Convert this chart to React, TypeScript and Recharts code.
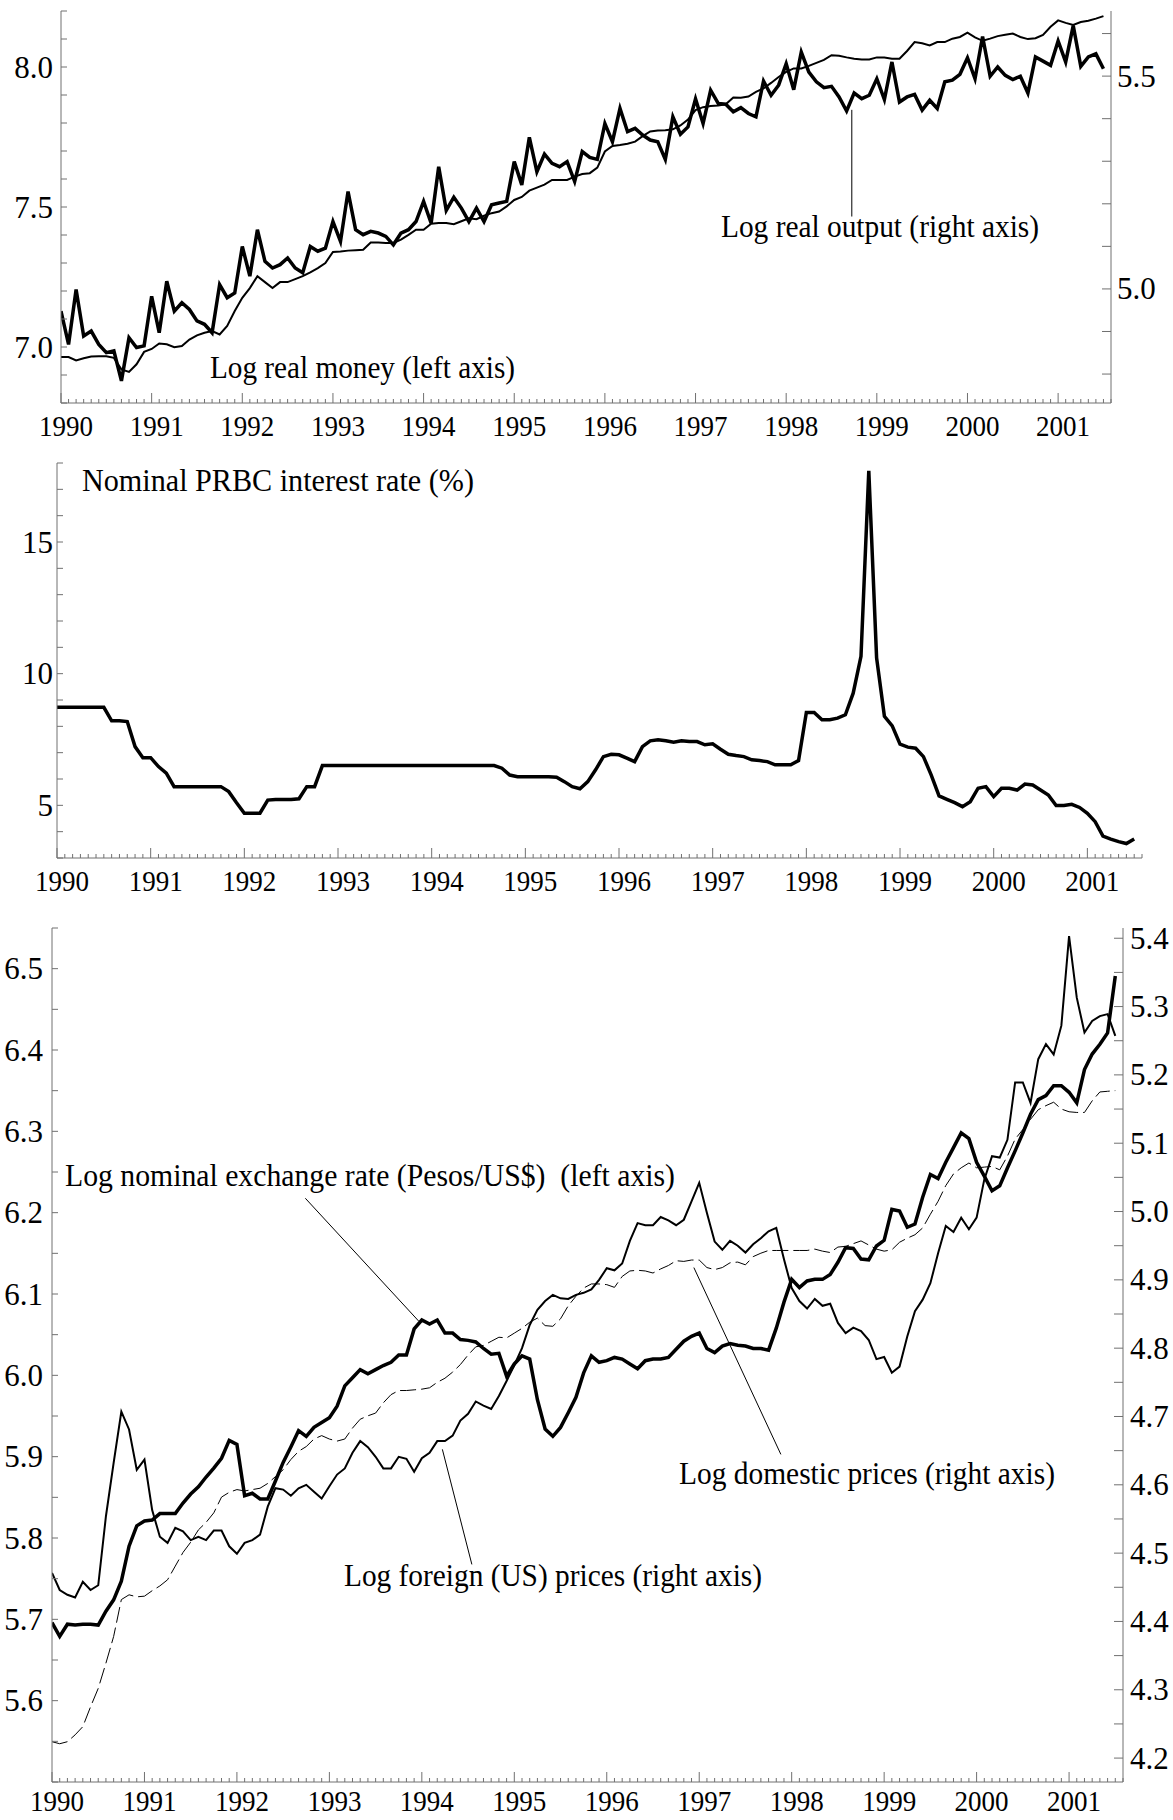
import React from "react";
import { LineChart, Line, XAxis, YAxis, ReferenceLine } from "recharts";

const FONT = "'Liberation Serif', 'Times New Roman', Times, serif";
const AXIS = "#707070";
const START = 1990;
const END = 1990 + 139 / 12;

// monthly observations, Jan 1990 .. Jul 2001
const realMoney = [
  7.128, 7.009, 7.205, 7.039, 7.057, 7.009, 6.98, 6.986, 6.879, 7.033, 6.998, 7.004,
  7.181, 7.051, 7.235, 7.128, 7.158, 7.134, 7.093, 7.081, 7.051, 7.223, 7.176, 7.193,
  7.359, 7.253, 7.419, 7.306, 7.282, 7.294, 7.318, 7.282, 7.265, 7.359, 7.342, 7.353,
  7.448, 7.377, 7.555, 7.419, 7.401, 7.413, 7.407, 7.395, 7.365, 7.407, 7.419, 7.448,
  7.52, 7.442, 7.644, 7.488, 7.535, 7.496, 7.448, 7.496, 7.448, 7.508, 7.514, 7.52,
  7.662, 7.579, 7.749, 7.626, 7.689, 7.656, 7.644, 7.662, 7.591, 7.698, 7.677, 7.67,
  7.798, 7.733, 7.852, 7.769, 7.781, 7.757, 7.739, 7.733, 7.67, 7.822, 7.76, 7.786,
  7.886, 7.798, 7.917, 7.87, 7.867, 7.84, 7.855, 7.834, 7.822, 7.95, 7.899, 7.935,
  8.012, 7.919, 8.053, 7.982, 7.947, 7.926, 7.931, 7.893, 7.843, 7.907, 7.887, 7.899,
  7.958, 7.884, 8.018, 7.875, 7.893, 7.902, 7.846, 7.881, 7.852, 7.947, 7.953, 7.974,
  8.033, 7.958, 8.109, 7.967, 8.0, 7.97, 7.955, 7.967, 7.907, 8.036, 8.021, 8.006,
  8.093, 8.018, 8.148, 8.002, 8.036, 8.047, 7.994,
];

const realOutput = [
  4.84, 4.84, 4.832, 4.837, 4.841, 4.842, 4.842, 4.838, 4.811, 4.805, 4.823, 4.852,
  4.859, 4.872, 4.87, 4.863, 4.866, 4.881, 4.891, 4.897, 4.901, 4.893, 4.913, 4.948,
  4.979, 5.002, 5.03, 5.016, 5.002, 5.016, 5.016, 5.023, 5.03, 5.039, 5.049, 5.061,
  5.087, 5.088, 5.09, 5.091, 5.092, 5.109, 5.109, 5.108, 5.108, 5.116, 5.127, 5.139,
  5.139, 5.153, 5.155, 5.155, 5.152, 5.159, 5.166, 5.164, 5.172, 5.178, 5.182, 5.194,
  5.209, 5.216, 5.231, 5.238, 5.245, 5.256, 5.256, 5.256, 5.264, 5.27, 5.272, 5.285,
  5.323, 5.336, 5.338, 5.341, 5.346, 5.359, 5.37, 5.372, 5.373, 5.375, 5.384, 5.398,
  5.42, 5.427, 5.43, 5.431, 5.434, 5.45, 5.449, 5.452, 5.463, 5.471, 5.484, 5.498,
  5.51, 5.518, 5.518, 5.524, 5.531, 5.538, 5.549, 5.548, 5.544, 5.541, 5.539, 5.539,
  5.544, 5.544, 5.541, 5.541, 5.559, 5.58, 5.577, 5.572, 5.58, 5.58, 5.588, 5.592,
  5.602, 5.591, 5.583, 5.588, 5.594, 5.597, 5.6, 5.592, 5.587, 5.589, 5.597, 5.616,
  5.631, 5.625, 5.62, 5.627, 5.63, 5.635, 5.641,
];

const interestRate = [
  8.72, 8.72, 8.72, 8.72, 8.72, 8.72, 8.72, 8.21, 8.21, 8.18, 7.23, 6.81,
  6.81, 6.47, 6.22, 5.71, 5.71, 5.71, 5.71, 5.71, 5.71, 5.71, 5.52, 5.1,
  4.7, 4.7, 4.7, 5.2, 5.22, 5.22, 5.22, 5.25, 5.71, 5.71, 6.51, 6.51,
  6.51, 6.51, 6.51, 6.51, 6.51, 6.51, 6.51, 6.51, 6.51, 6.51, 6.51, 6.51,
  6.51, 6.51, 6.51, 6.51, 6.51, 6.51, 6.51, 6.51, 6.51, 6.41, 6.15, 6.09,
  6.09, 6.09, 6.09, 6.09, 6.07, 5.9, 5.71, 5.63, 5.9, 6.35, 6.85, 6.94,
  6.92, 6.79, 6.66, 7.23, 7.45, 7.49, 7.45, 7.4, 7.45, 7.42, 7.42, 7.3,
  7.34, 7.13, 6.94, 6.89, 6.85, 6.73, 6.7, 6.66, 6.54, 6.54, 6.54, 6.7,
  8.53, 8.53, 8.25, 8.25, 8.31, 8.44, 9.26, 10.66, 17.7, 10.6, 8.38, 8.02,
  7.32, 7.21, 7.17, 6.85, 6.15, 5.36, 5.23, 5.1, 4.95, 5.14, 5.65, 5.71,
  5.33, 5.65, 5.65, 5.58, 5.81, 5.77, 5.58, 5.39, 4.99, 4.99, 5.04, 4.92,
  4.7, 4.38, 3.83, 3.72, 3.62, 3.55, 3.72,
];

const exchangeRate = [
  5.696, 5.679, 5.694, 5.693, 5.694, 5.694, 5.693, 5.71, 5.724, 5.747, 5.79, 5.815,
  5.821, 5.822, 5.83, 5.83, 5.83, 5.843, 5.854, 5.863, 5.875, 5.886, 5.898, 5.92,
  5.915, 5.852, 5.855, 5.848, 5.848, 5.87, 5.893, 5.912, 5.932, 5.925, 5.936, 5.942,
  5.948, 5.962, 5.987, 5.997, 6.007, 6.002, 6.007, 6.012, 6.016, 6.025, 6.025, 6.057,
  6.068, 6.063, 6.068, 6.052, 6.052, 6.044, 6.043, 6.041, 6.033, 6.026, 6.027, 5.999,
  6.014, 6.024, 6.02, 5.97, 5.934, 5.925, 5.936, 5.954, 5.973, 6.003, 6.024, 6.016,
  6.018, 6.022, 6.02, 6.014, 6.008, 6.018, 6.02, 6.02, 6.022, 6.032, 6.042, 6.048,
  6.052, 6.033, 6.028, 6.036, 6.039, 6.037, 6.036, 6.033, 6.033, 6.031, 6.058, 6.09,
  6.118, 6.108, 6.116, 6.118, 6.118, 6.124, 6.139, 6.157, 6.156, 6.143, 6.142, 6.159,
  6.166, 6.204, 6.202, 6.182, 6.186, 6.219, 6.247, 6.242, 6.262, 6.28, 6.298, 6.291,
  6.262, 6.245, 6.227, 6.233, 6.255, 6.276, 6.298, 6.321, 6.339, 6.344, 6.356, 6.356,
  6.348, 6.335, 6.376, 6.395, 6.407, 6.421, 6.491,
];

const foreignPrices = [
  4.471, 4.446, 4.439, 4.435, 4.458, 4.446, 4.453, 4.554, 4.632, 4.707, 4.681, 4.622,
  4.637, 4.563, 4.524, 4.515, 4.537, 4.532, 4.519, 4.524, 4.519, 4.533, 4.533, 4.51,
  4.499, 4.515, 4.519, 4.527, 4.568, 4.595, 4.593, 4.584, 4.595, 4.6, 4.59, 4.58,
  4.598, 4.615, 4.624, 4.647, 4.664, 4.655, 4.641, 4.624, 4.624, 4.641, 4.638, 4.619,
  4.639, 4.647, 4.664, 4.664, 4.672, 4.694, 4.704, 4.722, 4.716, 4.711, 4.73, 4.752,
  4.775, 4.8, 4.834, 4.856, 4.869, 4.878, 4.873, 4.872, 4.878, 4.881, 4.886, 4.9,
  4.917, 4.914, 4.924, 4.957, 4.983, 4.98, 4.98, 4.992, 4.987, 4.98, 4.988, 5.015,
  5.042, 4.998, 4.956, 4.944, 4.957, 4.95, 4.94, 4.952, 4.961, 4.971, 4.976, 4.93,
  4.888, 4.869, 4.858, 4.872, 4.862, 4.865, 4.837, 4.822, 4.83, 4.825, 4.812, 4.784,
  4.787, 4.764, 4.773, 4.817, 4.854, 4.871, 4.895, 4.939, 4.979, 4.97, 4.991, 4.974,
  4.991, 5.047, 5.081, 5.079, 5.105, 5.189, 5.189, 5.159, 5.223, 5.245, 5.23, 5.272,
  5.403, 5.313, 5.262, 5.279, 5.286, 5.289, 5.257,
];

const domesticPrices = [
  4.224, 4.221, 4.224, 4.234, 4.246, 4.275, 4.302, 4.339, 4.378, 4.432, 4.439, 4.436,
  4.437, 4.445, 4.452, 4.461, 4.481, 4.501, 4.516, 4.534, 4.545, 4.559, 4.582, 4.589,
  4.593, 4.591, 4.593, 4.595, 4.602, 4.612, 4.622, 4.637, 4.649, 4.656, 4.667, 4.672,
  4.667, 4.664, 4.667, 4.683, 4.696, 4.701, 4.705, 4.72, 4.732, 4.738, 4.738, 4.739,
  4.74, 4.742, 4.75, 4.756, 4.765, 4.776, 4.79, 4.802, 4.804, 4.81, 4.816, 4.815,
  4.822, 4.829, 4.838, 4.844, 4.833, 4.832, 4.843, 4.862, 4.876, 4.888, 4.894, 4.894,
  4.893, 4.889, 4.905, 4.913, 4.914, 4.913, 4.91, 4.916, 4.921, 4.928, 4.927, 4.929,
  4.929, 4.918, 4.915, 4.918, 4.925, 4.926, 4.922, 4.934, 4.939, 4.943, 4.943, 4.943,
  4.943, 4.943, 4.943, 4.945, 4.942, 4.94, 4.948, 4.949, 4.953, 4.957, 4.951, 4.945,
  4.942, 4.944, 4.955, 4.961, 4.966, 4.976, 4.996, 5.015, 5.038, 5.055, 5.064, 5.071,
  5.064, 5.065, 5.066, 5.061, 5.081, 5.106, 5.12, 5.135, 5.149, 5.155, 5.16, 5.15,
  5.146, 5.145, 5.145, 5.162, 5.175, 5.176, 5.177,
];

const monthT = (i: number) => START + i / 12;

const moneyData = realMoney.map((v, i) => ({ t: monthT(i), money: v, output: realOutput[i] }));
const rateData = interestRate.map((v, i) => ({ t: monthT(i), rate: v }));
const fxData = exchangeRate.map((v, i) => ({
  t: monthT(i),
  fx: v,
  foreign: foreignPrices[i],
  domestic: domesticPrices[i],
}));

const monthTicks = Array.from({ length: 140 }, (_, k) => START + k / 12);
const steps = (lo: number, hi: number, step: number) =>
  Array.from({ length: Math.round((hi - lo) / step) + 1 }, (_, k) => +(lo + k * step).toFixed(3));

const xTick = (drop: number) => (props: any) => {
  const { x, y, payload } = props;
  const v = payload.value;
  const year = Math.abs(v - Math.round(v)) < 1e-6;
  return (
    <g>
      <line x1={x} x2={x} y1={y} y2={y - (year ? 10 : 4)} stroke={AXIS} strokeWidth={1} />
      {year && (
        <text x={x + 5} y={y + drop} textAnchor="middle" fontFamily={FONT} fontSize={30}
          textLength={54} lengthAdjust="spacingAndGlyphs" fill="#000">
          {Math.round(v)}
        </text>
      )}
    </g>
  );
};

const yTick = (side: "left" | "right", labels: number[], len: number, gap: number, digits: number) =>
  (props: any) => {
    const { x, y, payload } = props;
    const v = payload.value;
    const lab = labels.find((l) => Math.abs(l - v) < 1e-6);
    const dir = side === "left" ? 1 : -1;
    return (
      <g>
        <line x1={x} x2={x + dir * len} y1={y} y2={y} stroke={AXIS} strokeWidth={1} />
        {lab !== undefined && (
          <text x={side === "left" ? x - gap : x + gap} y={y + 10.5}
            textAnchor={side === "left" ? "end" : "start"} fontFamily={FONT} fontSize={31} fill="#000">
            {lab.toFixed(digits)}
          </text>
        )}
      </g>
    );
  };

const axisCommon = {
  type: "number" as const,
  interval: 0 as const,
  tickSize: 0,
  tickMargin: 0,
  tickLine: false,
  stroke: AXIS,
  allowDataOverflow: true,
};

const Note = ({ x, y, w, children }: any) => (
  <text x={x} y={y} fontFamily={FONT} fontSize={32} textLength={w} lengthAdjust="spacingAndGlyphs"
    fill="#000" style={{ whiteSpace: "pre" }}>
    {children}
  </text>
);

export default function App() {
  return (
    <div style={{ position: "absolute", left: 0, top: 0, width: 1173, height: 1820, background: "#fff", overflow: "hidden" }}>
      <div style={{ position: "absolute", left: 0, top: 0 }}>
        <LineChart width={1173} height={450} data={moneyData} margin={{ top: 11, right: 0, bottom: 0, left: 0 }}>
          <XAxis dataKey="t" {...axisCommon} domain={[START, END]} ticks={monthTicks} tick={xTick(33)} height={47} />
          <YAxis yAxisId="left" orientation="left" width={61} {...axisCommon} domain={[6.8, 8.2]}
            ticks={steps(6.8, 8.2, 0.1)} tick={yTick("left", [7.0, 7.5, 8.0], 6, 8, 1)} />
          <YAxis yAxisId="right" orientation="right" width={62} {...axisCommon} domain={[4.732, 5.653]}
            ticks={steps(4.8, 5.6, 0.1)} tick={yTick("right", [5.0, 5.5], 9, 6, 1)} />
          <Line yAxisId="left" dataKey="money" type="linear" stroke="#000" strokeWidth={3.5} dot={false} isAnimationActive={false} />
          <Line yAxisId="right" dataKey="output" type="linear" stroke="#000" strokeWidth={2} dot={false} isAnimationActive={false} />
          <ReferenceLine yAxisId="left" segment={[{ x: 1998.724, y: 7.847 }, { x: 1998.724, y: 7.466 }]} stroke="#000" strokeWidth={1} />
        </LineChart>
      </div>

      <div style={{ position: "absolute", left: 0, top: 440 }}>
        <LineChart width={1173} height={460} data={rateData} margin={{ top: 23, right: 31, bottom: 0, left: 0 }}>
          <XAxis dataKey="t" {...axisCommon} domain={[START, END]} ticks={monthTicks} tick={xTick(33)} height={42} />
          <YAxis yAxisId="left" orientation="left" width={57} {...axisCommon} domain={[3, 18]}
            ticks={steps(3, 18, 1)} tick={yTick("left", [5, 10, 15], 6, 4, 0)} />
          <Line yAxisId="left" dataKey="rate" type="linear" stroke="#000" strokeWidth={3.5} dot={false} isAnimationActive={false} />
        </LineChart>
      </div>

      <div style={{ position: "absolute", left: 0, top: 900 }}>
        <LineChart width={1173} height={920} data={fxData} margin={{ top: 28, right: 0, bottom: 0, left: 0 }}>
          <XAxis dataKey="t" {...axisCommon} domain={[START, END]} ticks={monthTicks} tick={xTick(29)} height={38} />
          <YAxis yAxisId="left" orientation="left" width={52} {...axisCommon} domain={[5.5, 6.55]}
            ticks={steps(5.5, 6.55, 0.05)} tick={yTick("left", steps(5.6, 6.5, 0.1), 6, 9, 1)} />
          <YAxis yAxisId="right" orientation="right" width={50} {...axisCommon} domain={[4.165, 5.415]}
            ticks={steps(4.2, 5.4, 0.05)} tick={yTick("right", steps(4.2, 5.4, 0.1), 9, 7, 1)} />
          <Line yAxisId="right" dataKey="domestic" type="linear" stroke="#000" strokeWidth={1} strokeDasharray="16 5" dot={false} isAnimationActive={false} />
          <Line yAxisId="right" dataKey="foreign" type="linear" stroke="#000" strokeWidth={2} dot={false} isAnimationActive={false} />
          <Line yAxisId="left" dataKey="fx" type="linear" stroke="#000" strokeWidth={3.5} dot={false} isAnimationActive={false} />
          <ReferenceLine yAxisId="left" segment={[{ x: 1992.74, y: 6.2177 }, { x: 1993.965, y: 6.0668 }]} stroke="#000" strokeWidth={1} />
          <ReferenceLine yAxisId="left" segment={[{ x: 1996.942, y: 6.1325 }, { x: 1997.883, y: 5.9028 }]} stroke="#000" strokeWidth={1} />
          <ReferenceLine yAxisId="left" segment={[{ x: 1994.222, y: 5.909 }, { x: 1994.541, y: 5.7675 }]} stroke="#000" strokeWidth={1} />
        </LineChart>
      </div>

      <svg width={1173} height={1820} style={{ position: "absolute", left: 0, top: 0, pointerEvents: "none" }}>
        <Note x={210} y={378} w={305}>Log real money (left axis)</Note>
        <Note x={721} y={237} w={318}>Log real output (right axis)</Note>
        <Note x={82} y={491} w={392}>Nominal PRBC interest rate (%)</Note>
        <Note x={65} y={1186} w={610}>{"Log nominal exchange rate (Pesos/US$)  (left axis)"}</Note>
        <Note x={679} y={1484} w={376}>Log domestic prices (right axis)</Note>
        <Note x={344} y={1586} w={418}>Log foreign (US) prices (right axis)</Note>
      </svg>
    </div>
  );
}
